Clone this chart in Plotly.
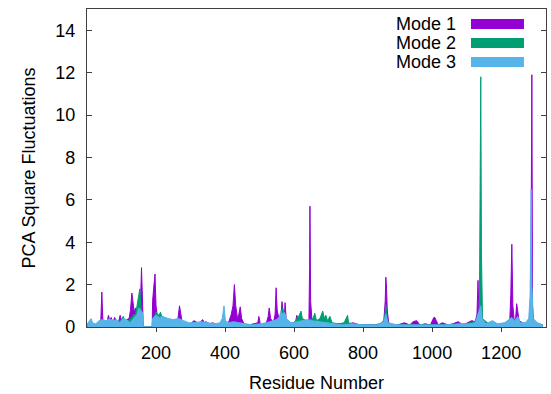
import plotly.graph_objects as go

# Residue number / PCA square fluctuation samples for each principal mode
res_mode1 = [1, 8, 15, 25, 35, 40, 43, 46, 52, 58,
             62, 66, 70, 75, 80, 85, 90, 96, 100, 108,
             115, 122, 126, 130, 134, 137, 141, 145, 149, 152,
             155, 158, 160, 162, 163, 189, 190, 193, 197, 200,
             204, 210, 220, 230, 245, 258, 264, 268, 272, 276,
             285, 300, 310, 318, 325, 335, 340, 345, 355, 365,
             375, 385, 400, 410, 418, 423, 427, 431, 436, 440,
             444, 448, 455, 470, 485, 495, 498, 502, 510, 520,
             525, 528, 532, 540, 545, 548, 551, 556, 562, 565,
             569, 572, 574, 577, 582, 592, 600, 605, 608, 612,
             620, 630, 638, 643, 645, 646, 648, 652, 660, 670,
             690, 710, 730, 750, 770, 790, 810, 830, 850, 860,
             864, 866, 868, 870, 874, 885, 900, 920, 935, 945,
             955, 965, 980, 995, 1005, 1008, 1012, 1018, 1030, 1045,
             1060, 1075, 1090, 1105, 1115, 1125, 1130, 1133, 1136, 1140,
             1150, 1165, 1180, 1200, 1215, 1225, 1228, 1231, 1234, 1238,
             1242, 1245, 1248, 1252, 1262, 1275, 1283, 1286, 1288, 1289,
             1291, 1294, 1300, 1310, 1320]
sqf_mode1 = [0.15, 0.2, 0.12, 0.1, 0.2, 0.3, 1.65, 0.3, 0.15, 0.2,
             0.55, 0.35, 0.45, 0.2, 0.45, 0.3, 0.15, 0.55, 0.3, 0.2,
             0.35, 0.4, 0.8, 1.6, 1.2, 0.7, 0.9, 0.6, 0.5, 0.8,
             1.2, 2.8, 1.5, 0.2, 0.0, 0.0, 1.2, 1.8, 2.5, 1.0,
             0.5, 0.4, 0.2, 0.25, 0.15, 0.2, 0.45, 1.0, 0.6, 0.2,
             0.1, 0.15, 0.3, 0.2, 0.15, 0.35, 0.2, 0.25, 0.15, 0.2,
             0.1, 0.15, 0.1, 0.2, 0.6, 1.0, 2.0, 1.0, 0.4, 0.6,
             0.95, 0.4, 0.15, 0.1, 0.15, 0.2, 0.5, 0.15, 0.1, 0.2,
             0.5, 0.9, 0.4, 0.2, 0.6, 1.85, 0.8, 0.4, 0.5, 1.2,
             0.6, 0.5, 1.15, 0.4, 0.2, 0.15, 0.2, 0.3, 0.55, 0.3,
             0.2, 0.15, 0.2, 0.3, 2.8, 5.7, 1.2, 0.3, 0.2, 0.15,
             0.1, 0.1, 0.15, 0.1, 0.2, 0.1, 0.1, 0.1, 0.15, 0.3,
             1.2, 2.35, 1.8, 0.8, 0.2, 0.1, 0.1, 0.2, 0.1, 0.25,
             0.3, 0.1, 0.15, 0.1, 0.45, 0.45, 0.3, 0.1, 0.2, 0.1,
             0.15, 0.25, 0.1, 0.2, 0.3, 0.25, 0.6, 2.2, 0.5, 0.2,
             0.15, 0.2, 0.1, 0.15, 0.2, 0.3, 1.5, 3.9, 1.0, 0.3,
             0.4, 1.1, 0.8, 0.3, 0.2, 0.15, 0.3, 1.0, 8.2, 11.9,
             1.0, 0.3, 0.2, 0.15, 0.1]

res_mode2 = [1, 10, 20, 30, 50, 60, 70, 80, 90, 100,
             105, 110, 120, 130, 136, 140, 145, 150, 153, 156,
             160, 162, 163, 189, 190, 195, 200, 205, 210, 213,
             218, 230, 250, 280, 320, 360, 400, 440, 480, 520,
             540, 555, 562, 567, 571, 580, 600, 610, 615, 620,
             624, 635, 655, 660, 665, 675, 683, 688, 692, 697,
             704, 710, 730, 745, 752, 755, 758, 780, 820, 850,
             862, 866, 870, 880, 950, 1000, 1050, 1100, 1120, 1130,
             1137, 1140, 1141, 1143, 1146, 1160, 1180, 1200, 1240, 1260,
             1280, 1285, 1287, 1290, 1300, 1320]
sqf_mode2 = [0.1, 0.15, 0.1, 0.1, 0.2, 0.3, 0.15, 0.2, 0.25, 0.35,
             0.5, 0.3, 0.3, 0.45, 0.6, 0.5, 1.0, 1.5, 1.8, 1.0,
             0.4, 0.1, 0.0, 0.0, 0.3, 0.5, 0.7, 0.55, 0.6, 0.7,
             0.4, 0.3, 0.2, 0.15, 0.1, 0.1, 0.1, 0.15, 0.1, 0.1,
             0.2, 0.3, 0.6, 0.9, 0.5, 0.2, 0.2, 0.4, 0.55, 0.75,
             0.4, 0.3, 0.4, 0.65, 0.3, 0.4, 0.75, 0.4, 0.55, 0.3,
             0.5, 0.2, 0.15, 0.2, 0.4, 0.55, 0.2, 0.1, 0.1, 0.1,
             0.3, 1.05, 0.3, 0.1, 0.1, 0.1, 0.1, 0.15, 0.25, 0.3,
             0.8, 8.9, 11.8, 3.5, 0.4, 0.2, 0.15, 0.1, 0.2, 0.15,
             0.2, 0.8, 2.6, 0.5, 0.15, 0.1]

res_mode3 = [1, 8, 12, 16, 25, 35, 45, 55, 65, 75,
             85, 95, 105, 115, 125, 135, 145, 150, 155, 160,
             162, 163, 189, 190, 200, 210, 220, 235, 250, 265,
             280, 295, 310, 330, 350, 370, 385, 392, 397, 401,
             410, 425, 440, 460, 480, 500, 520, 540, 550, 558,
             562, 566, 572, 578, 590, 610, 625, 640, 650, 670,
             690, 710, 740, 770, 800, 840, 860, 866, 872, 900,
             950, 1000, 1040, 1080, 1110, 1125, 1136, 1141, 1145, 1155,
             1175, 1190, 1210, 1225, 1231, 1240, 1248, 1255, 1270, 1280,
             1284, 1287, 1289, 1293, 1305, 1320]
sqf_mode3 = [0.15, 0.3, 0.4, 0.2, 0.15, 0.3, 0.35, 0.3, 0.4, 0.3,
             0.35, 0.2, 0.4, 0.35, 0.2, 0.4, 0.6, 0.9, 0.8, 0.7,
             0.5, 0.0, 0.0, 0.4, 0.55, 0.45, 0.5, 0.4, 0.35, 0.4,
             0.3, 0.2, 0.2, 0.25, 0.2, 0.15, 0.2, 0.4, 1.0, 0.3,
             0.2, 0.25, 0.2, 0.15, 0.1, 0.15, 0.2, 0.3, 0.35, 0.5,
             0.75, 0.6, 0.7, 0.4, 0.2, 0.25, 0.3, 0.35, 0.3, 0.25,
             0.2, 0.15, 0.1, 0.15, 0.1, 0.1, 0.25, 0.6, 0.2, 0.1,
             0.1, 0.1, 0.1, 0.15, 0.15, 0.2, 0.7, 1.0, 0.4, 0.15,
             0.3, 0.15, 0.2, 0.4, 0.45, 0.3, 0.5, 0.2, 0.2, 0.4,
             1.5, 6.5, 2.0, 0.4, 0.2, 0.1]

mode_names = ["Mode 1", "Mode 2", "Mode 3"]
mode_colors = ["#9400D3", "#009E73", "#56B4E9"]
x_ticks = [200, 400, 600, 800, 1000, 1200]
y_ticks = [0, 2, 4, 6, 8, 10, 12, 14]

FONT = "Liberation Sans, Arial, sans-serif"
AXIS_COLOR = "#404040"

fig = go.Figure()
for name, color, xs, ys in zip(mode_names, mode_colors,
                               [res_mode1, res_mode2, res_mode3],
                               [sqf_mode1, sqf_mode2, sqf_mode3]):
    fig.add_trace(go.Scatter(
        x=xs, y=ys, name=name, mode="lines",
        line=dict(color=color, width=1),
        fill="tozeroy", fillcolor=color,
        showlegend=False,
    ))

# Key in the upper right: right-aligned label followed by a colour bar
key_y = [0.953, 0.893, 0.833]
for name, color, yc in zip(mode_names, mode_colors, key_y):
    fig.add_annotation(
        xref="paper", yref="paper", x=0.808, y=yc,
        text=name, showarrow=False, xanchor="right", yanchor="middle",
        font=dict(family=FONT, size=18, color="#000000"),
    )
    fig.add_shape(
        type="rect", xref="paper", yref="paper",
        x0=0.8366, x1=0.952, y0=yc - 0.0157, y1=yc + 0.0157,
        fillcolor=color, line=dict(width=0),
    )

fig.update_layout(
    width=551, height=394,
    margin=dict(l=87, r=5, t=9, b=67),
    paper_bgcolor="white", plot_bgcolor="white",
    font=dict(family=FONT, size=18, color="#000000"),
    showlegend=False,
)
fig.update_xaxes(
    range=[0, 1330], tickvals=x_ticks,
    ticks="outside", ticklen=4, tickcolor=AXIS_COLOR,
    ticklabelstandoff=5,
    showline=True, linecolor=AXIS_COLOR, linewidth=1.3, mirror=True,
    showgrid=False, zeroline=False,
    title=dict(text="Residue Number", standoff=14,
               font=dict(family=FONT, size=18)),
    tickfont=dict(family=FONT, size=18),
)
fig.update_yaxes(
    range=[0, 15], tickvals=y_ticks,
    ticks="inside", ticklen=5, tickcolor=AXIS_COLOR,
    ticklabelstandoff=7,
    showline=True, linecolor=AXIS_COLOR, linewidth=1.3, mirror="ticks",
    showgrid=False, zeroline=False,
    title=dict(text="PCA Square Fluctuations", standoff=14,
               font=dict(family=FONT, size=18)),
    tickfont=dict(family=FONT, size=18),
)

fig.write_html("out.html")
